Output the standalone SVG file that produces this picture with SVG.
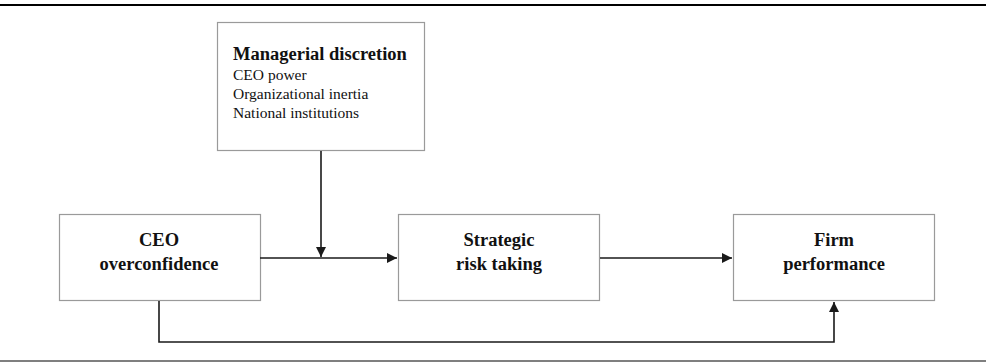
<svg xmlns="http://www.w3.org/2000/svg" width="986" height="362" viewBox="0 0 986 362">
<defs>
<style>
.box{fill:#fff;stroke:#9a9a9a;stroke-width:1.2}
.b{font-family:"Liberation Serif","Times New Roman",serif;font-weight:bold;font-size:18.5px;fill:#111;text-anchor:middle}
.bl{font-family:"Liberation Serif","Times New Roman",serif;font-weight:bold;font-size:18.5px;fill:#111}
.r{font-family:"Liberation Serif","Times New Roman",serif;font-size:15.5px;fill:#111}
.c{fill:none;stroke:#1a1a1a;stroke-width:1.6}
</style>
<marker id="ah" viewBox="0 0 10 10" refX="10" refY="5" markerWidth="10" markerHeight="10" markerUnits="userSpaceOnUse" orient="auto">
<path d="M0,0 L10,5 L0,10 Z" fill="#1a1a1a"/>
</marker>
</defs>
<rect width="986" height="362" fill="#fff"/>
<line x1="0" y1="5" x2="986" y2="5" stroke="#000" stroke-width="2.2"/>
<line x1="0" y1="361" x2="986" y2="361" stroke="#000" stroke-width="1.2"/>
<g id="managerial-discretion">
<rect class="box" x="217.5" y="22.5" width="207" height="128"/>
<text class="bl" x="233" y="60">Managerial discretion</text>
<text class="r" x="233" y="80">CEO power</text>
<text class="r" x="233" y="99">Organizational inertia</text>
<text class="r" x="233" y="118">National institutions</text>
</g>
<g id="ceo-overconfidence">
<rect class="box" x="59.5" y="214.5" width="201" height="86"/>
<text class="b" x="159" y="246">CEO</text>
<text class="b" x="159" y="270">overconfidence</text>
</g>
<g id="strategic-risk-taking">
<rect class="box" x="398.5" y="214.5" width="201" height="86"/>
<text class="b" x="499" y="246">Strategic</text>
<text class="b" x="499" y="270">risk taking</text>
</g>
<g id="firm-performance">
<rect class="box" x="733.5" y="214.5" width="201" height="86"/>
<text class="b" x="834" y="246">Firm</text>
<text class="b" x="834" y="270">performance</text>
</g>
<g id="connectors">
<path class="c" d="M321,151 V257" marker-end="url(#ah)"/>
<path class="c" d="M260,258 H397" marker-end="url(#ah)"/>
<path class="c" d="M600,258 H732" marker-end="url(#ah)"/>
<path class="c" d="M159,301 V342 H834 V302" marker-end="url(#ah)"/>
</g>
</svg>
